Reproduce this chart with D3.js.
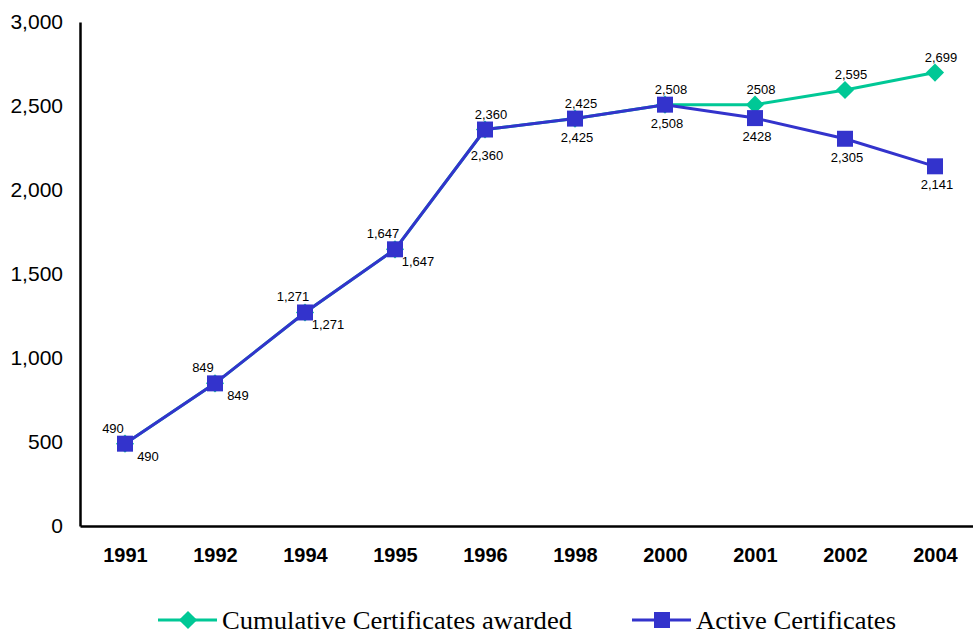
<!DOCTYPE html>
<html>
<head>
<meta charset="utf-8">
<script src="https://cdn.jsdelivr.net/npm/d3@7"></script>
<style>
  body { margin: 0; background: #fff; }
  svg { display: block; }
</style>
</head>
<body>
<svg id="chart" width="973" height="635"></svg>
<script>
const years = ['1991', '1992', '1994', '1995', '1996', '1998', '2000', '2001', '2002', '2004'];
const cumulative = [490, 849, 1271, 1647, 2360, 2425, 2508, 2508, 2595, 2699];
const active = [490, 849, 1271, 1647, 2360, 2425, 2508, 2428, 2305, 2141];
const cumulativeLabels = ['490', '849', '1,271', '1,647', '2,360', '2,425', '2,508', '2508', '2,595', '2,699'];
const activeLabels = ['490', '849', '1,271', '1,647', '2,360', '2,425', '2,508', '2428', '2,305', '2,141'];
const yTicks = [0, 500, 1000, 1500, 2000, 2500, 3000];
const seriesNames = ['Cumulative Certificates awarded', 'Active Certificates'];

const green = '#00c896';
const blue = '#3333cc';
const sans = "'Liberation Sans', Arial, sans-serif";

const svg = d3.select('#chart');
const margin = { top: 22, right: 0, bottom: 109, left: 80 };
const height = 635;

const x = d3.scalePoint()
    .domain(years)
    .range([margin.left, margin.left + 900])
    .padding(0.5);

const y = d3.scaleLinear()
    .domain([0, 3000])
    .range([height - margin.bottom, margin.top]);

// Axes
const yAxis = d3.axisLeft(y)
    .tickValues(yTicks)
    .tickFormat(d3.format(','))
    .tickSize(0)
    .tickPadding(17);

const yG = svg.append('g')
    .attr('transform', `translate(${margin.left},0)`)
    .call(yAxis);
yG.select('.domain').attr('stroke', '#000').attr('stroke-width', 2.5);
yG.selectAll('text')
    .attr('font-family', sans)
    .attr('font-size', 21)
    .attr('fill', '#000');

const xAxis = d3.axisBottom(x)
    .tickSize(0)
    .tickPadding(22);

const xG = svg.append('g')
    .attr('transform', `translate(0,${y(0)})`)
    .call(xAxis);
xG.select('.domain').attr('stroke', '#000').attr('stroke-width', 2.5);
xG.selectAll('text')
    .attr('font-family', sans)
    .attr('font-size', 20)
    .attr('font-weight', 'bold')
    .attr('fill', '#000');

const line = d3.line()
    .x((d, i) => x(years[i]))
    .y(d => y(d));

const diamond = d3.symbol().type(d3.symbolDiamond2).size(210);
const square = d3.symbol().type(d3.symbolSquare).size(256);

// Cumulative series (drawn first, underneath)
svg.append('path')
    .datum(cumulative)
    .attr('d', line)
    .attr('fill', 'none')
    .attr('stroke', green)
    .attr('stroke-width', 3);

svg.append('g')
    .selectAll('path')
    .data(cumulative)
    .join('path')
    .attr('d', diamond)
    .attr('transform', (d, i) => `translate(${x(years[i])},${y(d)})`)
    .attr('fill', green);

// Active series
svg.append('path')
    .datum(active)
    .attr('d', line)
    .attr('fill', 'none')
    .attr('stroke', blue)
    .attr('stroke-width', 3);

svg.append('g')
    .selectAll('path')
    .data(active)
    .join('path')
    .attr('d', square)
    .attr('transform', (d, i) => `translate(${x(years[i])},${y(d)})`)
    .attr('fill', blue);

// Data labels: on the steep rising part the labels sit off to the side
const rising = (arr, i) => i < arr.length - 1 && arr[i + 1] - arr[i] > 300;
const afterJump = (arr, i) => i > 0 && arr[i] - arr[i - 1] > 500;

svg.append('g')
    .selectAll('text')
    .data(cumulative)
    .join('text')
    .attr('x', (d, i) => x(years[i]) + (rising(cumulative, i) ? -12 : 6))
    .attr('y', d => y(d) - 11)
    .attr('text-anchor', 'middle')
    .attr('font-family', sans)
    .attr('font-size', 13)
    .attr('fill', '#000')
    .text((d, i) => cumulativeLabels[i]);

svg.append('g')
    .selectAll('text')
    .data(active)
    .join('text')
    .attr('x', (d, i) => x(years[i]) + (rising(active, i) ? 23 : 2))
    .attr('y', (d, i) => y(d) + (rising(active, i) ? 17 : afterJump(active, i) ? 30 : 23))
    .attr('text-anchor', 'middle')
    .attr('font-family', sans)
    .attr('font-size', 13)
    .attr('fill', '#000')
    .text((d, i) => activeLabels[i]);

// Legend (the original's serif text is a little wider, so stretch it)
const legend = svg.append('g')
    .attr('font-family', "'Liberation Serif', 'Times New Roman', serif")
    .attr('font-size', 25.5)
    .attr('fill', '#000');

const legendItems = [
    { name: seriesNames[0], color: green, symbol: diamond, x0: 158, w: 350 },
    { name: seriesNames[1], color: blue, symbol: square, x0: 632, w: 200 }
];

legendItems.forEach(item => {
    const g = legend.append('g').attr('transform', `translate(${item.x0},620)`);
    g.append('line')
        .attr('x1', 0).attr('x2', 59)
        .attr('y1', 0).attr('y2', 0)
        .attr('stroke', item.color)
        .attr('stroke-width', 3);
    g.append('path')
        .attr('d', item.symbol)
        .attr('transform', 'translate(30,0)')
        .attr('fill', item.color);
    g.append('text')
        .attr('x', 64)
        .attr('dy', '0.35em')
        .attr('textLength', item.w)
        .attr('lengthAdjust', 'spacingAndGlyphs')
        .text(item.name);
});
</script>
</body>
</html>
